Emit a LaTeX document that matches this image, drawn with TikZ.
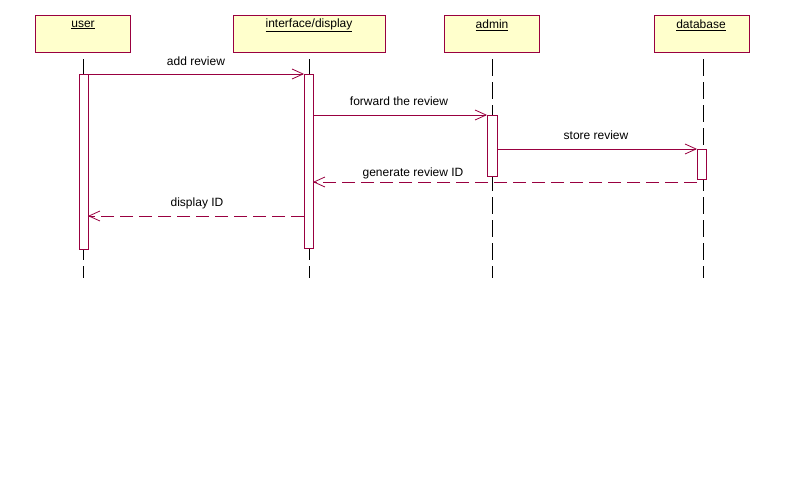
\documentclass[tikz,border=0pt]{standalone}
\usepackage{fontspec}
\setmainfont{Liberation Sans}
\usetikzlibrary{arrows.meta}
\definecolor{crim}{HTML}{990040}
\definecolor{ybox}{HTML}{FFFFCC}
\begin{document}
\begin{tikzpicture}[x=1pt,y=-1pt,
  objbox/.style={draw=crim,fill=ybox,line width=0.9pt},
  actbox/.style={draw=crim,fill=white,line width=0.9pt},
  lifeln/.style={draw=black,line width=0.9pt,dash pattern=on 17pt off 6pt},
  msg/.style={draw=crim,line width=0.8pt,-{Straight Barb[length=11pt,width=10pt,line width=0.8pt]}},
  ret/.style={msg,dash pattern=on 13pt off 6pt},
  lbl/.style={font=\fontsize{12}{14}\selectfont,inner sep=0pt},
  nm/.style={font=\fontsize{12}{14}\selectfont,inner sep=0pt}]
\useasboundingbox (0,0) rectangle (786,482);
\fill[white] (0,0) rectangle (786,482);
% lifelines
\draw[lifeln] (83,59) -- (83,278);
\draw[lifeln] (309,59) -- (309,278);
\draw[lifeln] (492,59) -- (492,278);
\draw[lifeln] (703,59) -- (703,278);
% object boxes
\draw[objbox] (35,15) rectangle (130,52);
\draw[objbox] (233,15) rectangle (385,52);
\draw[objbox] (444,15) rectangle (539,52);
\draw[objbox] (654,15) rectangle (749,52);
\node[nm] (u) at (83,25) {\underline{user}};
\node[nm] (i) at (309,25) {\underline{interface/display}};
\node[nm] (a) at (492,25) {\underline{admin}};
\node[nm] (d) at (701,25) {\underline{database}};
% activations
\draw[actbox] (79,74) rectangle (88,249);
\draw[actbox] (304,74) rectangle (313,248);
\draw[actbox] (487,115) rectangle (497,176);
\draw[actbox] (697,149) rectangle (706,179);
\coordinate (ua) at (88,74);
\coordinate (ia) at (304,74);
\coordinate (ib) at (313,115);
\coordinate (ab) at (487,115);
\coordinate (ac) at (497,149);
\coordinate (dc) at (697,149);
\coordinate (dd) at (697,182);
\coordinate (id) at (313,182);
\coordinate (ie) at (304,216);
\coordinate (ue) at (88,216);
% messages
\draw[msg] (ua) -- (ia);
\draw[msg] (ib) -- (ab);
\draw[msg] (ac) -- (dc);
\draw[ret] (dd) -- (id);
\draw[ret] (ie) -- (ue);
\node[lbl] (l1) at (196,61) {add review};
\node[lbl] (l2) at (399,101) {forward the review};
\node[lbl] (l3) at (596,135) {store review};
\node[lbl] (l4) at (413,173) {generate review ID};
\node[lbl] (l5) at (197,203) {display ID};
\end{tikzpicture}
\end{document}
